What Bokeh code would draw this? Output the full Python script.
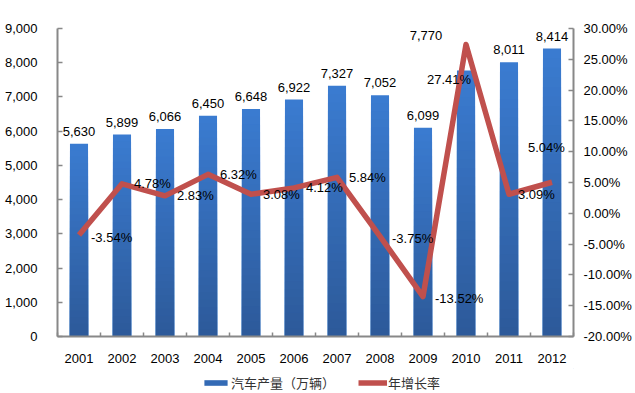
from bokeh.plotting import figure
from bokeh.models import (Range1d, LinearAxis, FixedTicker, NumeralTickFormatter,
                          ColumnDataSource, LabelSet, Legend, LegendItem)
from bokeh.layouts import column
from bokeh.core.properties import value
from bokeh.embed import file_html
from bokeh.resources import INLINE

years = [2001, 2002, 2003, 2004, 2005, 2006, 2007, 2008, 2009, 2010, 2011, 2012]
production = [5630, 5899, 6066, 6450, 6648, 6922, 7327, 7052, 6099, 7770, 8011, 8414]
growth_pct = [-3.54, 4.78, 2.83, 6.32, 3.08, 4.12, 5.84, -3.75, -13.52, 27.41, 3.09, 5.04]
left_ticks = [0, 1000, 2000, 3000, 4000, 5000, 6000, 7000, 8000, 9000]
right_ticks = [-0.20, -0.15, -0.10, -0.05, 0.0, 0.05, 0.10, 0.15, 0.20, 0.25, 0.30]
bar_name = "汽车产量（万辆）"
line_name = "年增长率"

# label offsets (screen px) - layout only
bar_lbl_dx = [0, 0, 0, 0, 0, 0, 0, 0, 0, -40, 0, 0]
bar_lbl_dy = [8, 8, 8, 8, 8, 8, 8, 8, 8, 31, 8, 8]
pct_lbl_dx = [12, 12, 12, 12, 12, 12, 12, 12, 12, -39, 9, -24]
pct_lbl_dy = [-2, 0, 0, 0, 0, 0, 0, -2, -2, -35, 0, 35]

FONT = "Liberation Sans"
AXIS_GRAY = "#888888"
BAR_TOP = (58, 123, 208)
BAR_BOT = (45, 90, 154)
LINE_COLOR = "#c0504d"

p = figure(width=635, height=368, output_backend="svg", toolbar_location=None,
           x_range=Range1d(2000.5, 2012.5), y_range=Range1d(0, 9000),
           min_border_left=57, min_border_right=62, min_border_top=28, min_border_bottom=32)
p.outline_line_color = None
p.xgrid.visible = False
p.ygrid.visible = False
p.extra_y_ranges = {"pct": Range1d(-0.20, 0.30)}

# gradient bars: overlapping shorter bars with darker colours
N = 30
bar_rends = []
for k in range(N):
    t = k / (N - 1)
    c = tuple(int(round(BAR_TOP[i] + (BAR_BOT[i] - BAR_TOP[i]) * t)) for i in range(3))
    col = "#%02x%02x%02x" % c
    frac = (N - k) / N
    r = p.vbar(x=years, top=[v * frac for v in production], bottom=0, width=0.42,
               fill_color=col, line_color=None)
    bar_rends.append(r)

src = ColumnDataSource(dict(
    x=years, prod=production, prod_lbl=[f"{v:,}" for v in production],
    g=[v / 100 for v in growth_pct], g_lbl=[f"{v:.2f}%" for v in growth_pct],
    bdx=bar_lbl_dx, bdy=bar_lbl_dy, pdx=pct_lbl_dx, pdy=pct_lbl_dy,
))

line_r = p.line(x="x", y="g", source=src, y_range_name="pct",
                line_color=LINE_COLOR, line_width=5.5, line_join="round")

# axes
p.xaxis.ticker = FixedTicker(ticks=years, minor_ticks=[y + 0.5 for y in [2000] + years])
p.xaxis.formatter = NumeralTickFormatter(format="0")
p.xaxis.major_tick_in = 0
p.xaxis.major_tick_out = 0
p.xaxis.minor_tick_in = 4
p.xaxis.minor_tick_out = 0
p.xaxis.major_label_standoff = 17

p.yaxis.ticker = FixedTicker(ticks=left_ticks)
p.yaxis.formatter = NumeralTickFormatter(format="0,0")
p.yaxis.major_tick_in = 5
p.yaxis.major_tick_out = 0
p.yaxis.minor_tick_line_color = None
p.yaxis.major_label_standoff = 20

raxis = LinearAxis(y_range_name="pct", ticker=FixedTicker(ticks=right_ticks),
                   formatter=NumeralTickFormatter(format="0.00%"))
raxis.major_tick_in = 5
raxis.major_tick_out = 0
raxis.minor_tick_line_color = None
raxis.major_label_standoff = 10
p.add_layout(raxis, "right")

for ax in [p.xaxis[0], p.yaxis[0], raxis]:
    ax.axis_line_color = AXIS_GRAY
    ax.axis_line_width = 2
    ax.major_tick_line_color = AXIS_GRAY
    ax.major_tick_line_width = 1.5
    ax.minor_tick_line_width = 1.5
    ax.major_label_text_font = FONT
    ax.major_label_text_font_size = "13px"
    ax.major_label_text_color = "#000000"
p.xaxis.minor_tick_line_color = AXIS_GRAY

# labels
bar_labels = LabelSet(x="x", y="prod", text="prod_lbl", source=src,
                      x_offset="bdx", y_offset="bdy",
                      text_align="center", text_baseline="bottom",
                      text_font=value(FONT), text_font_size=value("13px"),
                      text_color="#000000")
p.add_layout(bar_labels)
pct_labels = LabelSet(x="x", y="g", text="g_lbl", source=src, y_range_name="pct",
                      x_offset="pdx", y_offset="pdy",
                      text_align="left", text_baseline="middle",
                      text_font=value(FONT), text_font_size=value("13px"),
                      text_color="#000000")
p.add_layout(pct_labels)

# legend strip (separate small figure so the legend is not clipped);
# its sample glyphs carry one point outside the visible range
lg = figure(width=635, height=25, output_backend="svg", toolbar_location=None,
            x_range=Range1d(0, 1), y_range=Range1d(0, 1),
            x_axis_type=None, y_axis_type=None,
            min_border_left=0, min_border_right=0, min_border_top=0, min_border_bottom=0)
lg.outline_line_color = None
lg.xgrid.visible = False
lg.ygrid.visible = False
mid = "#%02x%02x%02x" % tuple((BAR_TOP[i] + BAR_BOT[i]) // 2 for i in range(3))
lg_bar = lg.vbar(x=[5], top=[5], bottom=[4], width=0.1, fill_color=mid, line_color=None)
lg_line = lg.line(x=[5, 6], y=[5, 5], line_color=LINE_COLOR, line_width=5.5)
legend = Legend(items=[LegendItem(label=bar_name, renderers=[lg_bar]),
                       LegendItem(label=line_name, renderers=[lg_line])],
                orientation="horizontal", location=(144, 1),
                glyph_width=29, glyph_height=7, label_standoff=1, spacing=23,
                padding=2, margin=0, border_line_color=None, background_fill_alpha=0,
                label_text_font="Noto Sans CJK SC", label_text_font_size="13px",
                label_text_color="#333333", label_height=14)
lg.add_layout(legend, "center")

layout = column(p, lg, spacing=0)
open("out.html", "w").write(file_html(layout, INLINE))
